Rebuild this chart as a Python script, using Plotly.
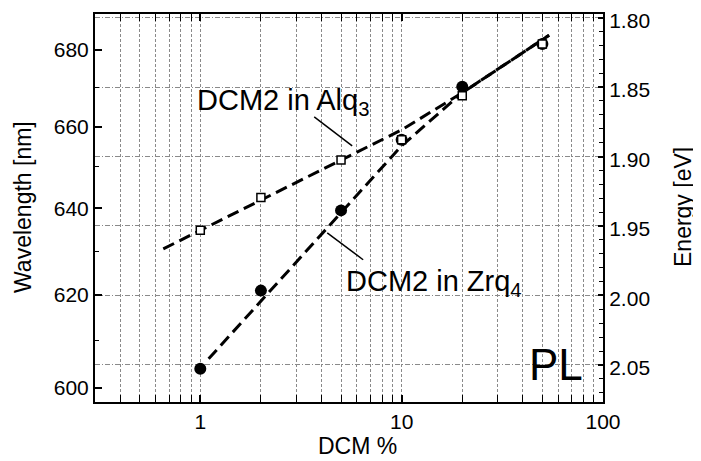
import numpy as np
import plotly.graph_objects as go

HC = 1239.84  # eV*nm

# ---- data ----
dcm_pct = [1, 2, 5, 10, 20, 50]
zrq4_nm = [604.0, 621.0, 639.5, 656.7, 670.3, 681.6]
alq3_nm = [634.8, 642.6, 651.7, 656.7, 667.9, 681.6]

alq3_fit_pct = [0.655, 10, 20, 54]
alq3_fit_nm = [630.5, 659.2, 668.7, 684.0]
zrq4_fit_pct = [1.1, 10, 20, 54]
zrq4_fit_nm = [606.1, 655.2, 668.7, 684.0]

wl_ticks = [600, 620, 640, 660, 680]
wl_minor = [610, 630, 650, 670]
energy_ticks = [1.80, 1.85, 1.90, 1.95, 2.00, 2.05]
x_ticks = [1, 10, 100]
x_ticklabels = ["1", "10", "100"]


def to_ev(nm):
    return [HC / v for v in nm]


FONT = "Liberation Sans, Arial, Helvetica, sans-serif"
GRID = "#8a8a8a"
E_RANGE = [2.0767, 1.7974]

# page has an 8px body margin: size the figure so the plot area lands on
# page x 95..603, y 14..402
OFF = 8
PX0, PX1, PY0, PY1 = 95, 603, 14, 402
W, H = 701 - OFF, 461 - OFF
L, T = PX0 - OFF, PY0 - OFF
R, B = W - (PX1 - OFF), H - (PY1 - OFF)


def px2paper(px, py):
    return (px - PX0) / (PX1 - PX0), (PY1 - py) / (PY1 - PY0)


x_minor = [m * 10 ** e for e in (-1, 0, 1) for m in range(2, 10) if m * 10 ** e > 0.3]
e_minor = [round(1.79 + 0.01 * i, 2) for i in range(0, 30)]

fig = go.Figure()

dash = "12px,6px"
fig.add_trace(go.Scatter(x=alq3_fit_pct, y=to_ev(alq3_fit_nm), mode="lines",
                         line=dict(color="black", width=3, dash=dash), showlegend=False))
fig.add_trace(go.Scatter(x=zrq4_fit_pct, y=to_ev(zrq4_fit_nm), mode="lines",
                         line=dict(color="black", width=3, dash=dash), showlegend=False))
fig.add_trace(go.Scatter(x=dcm_pct, y=to_ev(zrq4_nm), mode="markers",
                         marker=dict(symbol="circle", size=12, color="black"), showlegend=False))
fig.add_trace(go.Scatter(x=dcm_pct, y=to_ev(alq3_nm), mode="markers",
                         marker=dict(symbol="square", size=8, color="white",
                                     line=dict(color="black", width=1.5)), showlegend=False))

fig.update_layout(
    width=W, height=H,
    margin=dict(l=L, r=R, t=T, b=B),
    paper_bgcolor="white", plot_bgcolor="white",
    font=dict(family=FONT, size=21, color="black"),
    xaxis=dict(
        type="log", range=[np.log10(0.3), 2], automargin=False, ticklabeloverflow="allow",
        tickvals=x_ticks, ticktext=x_ticklabels,
        ticks="inside", ticklen=7, tickwidth=1.5, tickcolor="black",
        showline=True, linewidth=2, linecolor="black", mirror="allticks",
        showgrid=True, gridcolor=GRID, gridwidth=1, griddash="3px,2px",
        minor=dict(tickvals=x_minor, ticks="inside", ticklen=4, tickwidth=1,
                   tickcolor="black", showgrid=True, gridcolor=GRID, gridwidth=1,
                   griddash="3px,2px"),
        zeroline=False,
    ),
    yaxis=dict(
        range=E_RANGE, side="right", automargin=False, ticklabeloverflow="allow",
        ticklabelshift=-3,
        tickvals=energy_ticks, ticktext=[f"{v:.2f}" for v in energy_ticks],
        ticks="inside", ticklen=5, tickwidth=1.5, tickcolor="black",
        showline=True, linewidth=2, linecolor="black",
        showgrid=True, gridcolor=GRID, gridwidth=1, griddash="5px,2px,1px,2px",
        minor=dict(tickvals=e_minor, ticks="inside", ticklen=4, tickwidth=1,
                   tickcolor="black", showgrid=False),
        zeroline=False,
    ),
    yaxis2=dict(
        range=E_RANGE, overlaying="y", side="left", automargin=False,
        ticklabeloverflow="allow",
        tickvals=to_ev(wl_ticks), ticktext=[str(v) for v in wl_ticks],
        ticks="inside", ticklen=7, tickwidth=1.5, tickcolor="black",
        showline=True, linewidth=2, linecolor="black",
        showgrid=False, zeroline=False,
        minor=dict(tickvals=to_ev(wl_minor), ticks="inside", ticklen=4, tickwidth=1,
                   tickcolor="black", showgrid=False),
    ),
)

# invisible trace to activate yaxis2
fig.add_trace(go.Scatter(x=[1], y=[2.0], yaxis="y2", mode="markers",
                         marker=dict(opacity=0), showlegend=False, hoverinfo="skip"))

# axis titles
for text, (px, py), ang in [("DCM %", (357, 446), 0),
                            ("Wavelength [nm]", (23, 207), -90),
                            ("Energy [eV]", (683, 207), -90)]:
    xp, yp = px2paper(px, py)
    fig.add_annotation(x=xp, y=yp, xref="paper", yref="paper", text=text, textangle=ang,
                       showarrow=False, xanchor="center", yanchor="middle",
                       font=dict(size=23, family=FONT))

# labels
fig.add_annotation(x=-0.0248, y=1.8607, xref="x", yref="y", text="DCM2 in Alq<sub>3</sub>",
                   showarrow=False, xanchor="left", yanchor="middle",
                   font=dict(size=29, family=FONT))
fig.add_annotation(x=0.7146, y=1.9909, xref="x", yref="y", text="DCM2 in Zrq<sub>4</sub>",
                   showarrow=False, xanchor="left", yanchor="middle",
                   font=dict(size=29, family=FONT))
fig.add_annotation(x=1.623, y=2.05, xref="x", yref="y", text="PL",
                   showarrow=False, xanchor="left", yanchor="middle",
                   font=dict(size=44, family=FONT))

# leader lines (shape positions on log axis are given as data values)
fig.add_shape(type="line", xref="x", yref="y", x0=3.68, y0=1.8715, x1=5.68, y1=1.8924,
              line=dict(color="black", width=1.5))
fig.add_shape(type="line", xref="x", yref="y", x0=4.27, y0=1.9549, x1=6.44, y1=1.9743,
              line=dict(color="black", width=1.5))

fig.write_html("out.html")
